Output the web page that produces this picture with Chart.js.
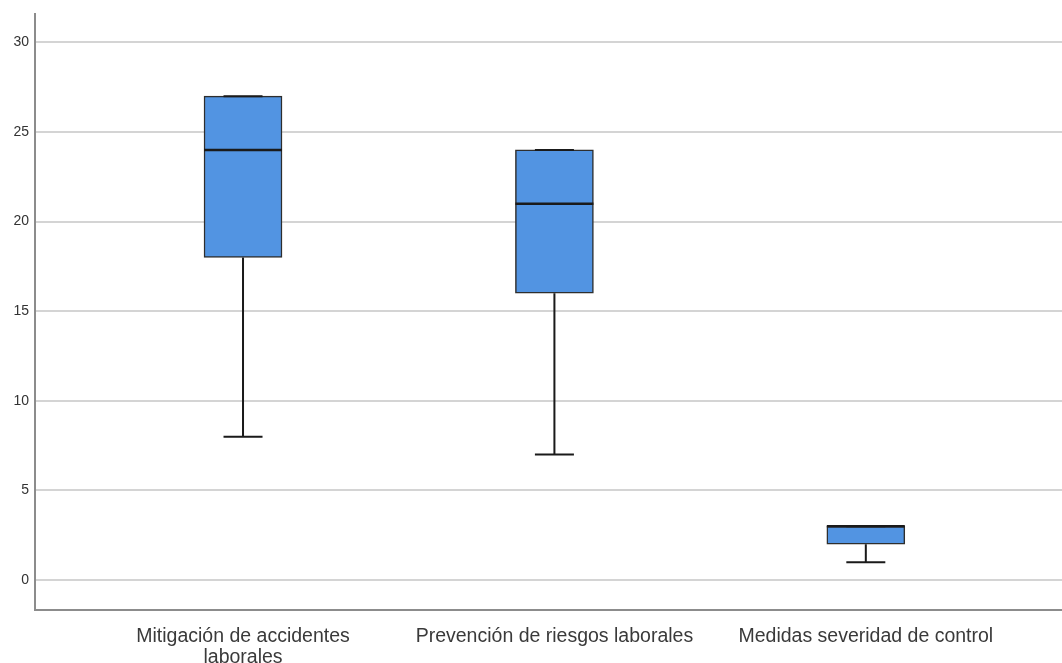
<!DOCTYPE html>
<html>
<head>
<meta charset="utf-8">
<script src="https://cdn.jsdelivr.net/npm/chart.js@4.4.1/dist/chart.umd.min.js"></script>
<style>
  html, body { margin: 0; padding: 0; background: #fff; }
  #wrap { width: 1062px; height: 663px; }
</style>
</head>
<body>
<div id="wrap"><canvas id="boxChart"></canvas></div>
<script>
// Box plot values
const categories = [["Mitigación de accidentes", "laborales"], "Prevención de riesgos laborales", "Medidas severidad de control"];
const mins = [8, 7, 1];
const q1s = [18, 16, 2];
const medians = [24, 21, 3];
const q3s = [27, 24, 3];
const maxs = [27, 24, 3];
const yTicks = [0, 5, 10, 15, 20, 25, 30];

// whiskers + medians, drawn on top of the floating bars
const boxExtras = {
  id: "boxExtras",
  afterDatasetsDraw(chart) {
    const ctx = chart.ctx;
    const xs = chart.scales.x;
    const ys = chart.scales.y;
    const meta = chart.getDatasetMeta(0);
    ctx.save();
    ctx.strokeStyle = "#1a1a1a";
    ctx.lineCap = "butt";
    categories.forEach((c, i) => {
      const cx = xs.getPixelForValue(i + 1);
      const half = meta.data[i].width / 2;
      const cap = half / 2;
      ctx.lineWidth = 2;
      // lower whisker
      ctx.beginPath();
      ctx.moveTo(cx, ys.getPixelForValue(q1s[i]));
      ctx.lineTo(cx, ys.getPixelForValue(mins[i]));
      ctx.moveTo(cx - cap, ys.getPixelForValue(mins[i]));
      ctx.lineTo(cx + cap, ys.getPixelForValue(mins[i]));
      // upper whisker
      ctx.moveTo(cx, ys.getPixelForValue(q3s[i]));
      ctx.lineTo(cx, ys.getPixelForValue(maxs[i]));
      ctx.moveTo(cx - cap, ys.getPixelForValue(maxs[i]));
      ctx.lineTo(cx + cap, ys.getPixelForValue(maxs[i]));
      ctx.stroke();
      // median
      ctx.lineWidth = 2.5;
      ctx.beginPath();
      ctx.moveTo(cx - half, ys.getPixelForValue(medians[i]));
      ctx.lineTo(cx + half, ys.getPixelForValue(medians[i]));
      ctx.stroke();
    });
    ctx.restore();
  }
};

const ctx = document.getElementById("boxChart").getContext("2d");
new Chart(ctx, {
  type: "bar",
  data: {
    datasets: [
      {
        data: categories.map((c, i) => ({ x: i + 1, y: [q1s[i], q3s[i]] })),
        backgroundColor: "#5294e2",
        borderColor: "#2e2e2e",
        borderWidth: 1.5,
        borderSkipped: false,
        barThickness: 78,
      },
    ],
  },
  options: {
    responsive: true,
    maintainAspectRatio: false,
    animation: false,
    layout: { padding: { top: 9, right: 0, left: 0, bottom: 0 } },
    plugins: {
      legend: { display: false },
      tooltip: { enabled: false },
    },
    scales: {
      x: {
        type: "linear",
        offset: false,
        bounds: "data",
        min: 0.332,
        max: 3.63,
        grid: { display: false },
        border: { display: true, color: "#8c8c8c", width: 2 },
        afterFit: (s) => { s.height = 53; },
        afterBuildTicks: (s) => { s.ticks = categories.map((c, i) => ({ value: i + 1 })); },
        ticks: {
          autoSkip: false,
          maxRotation: 0,
          padding: 8,
          color: "#3a3a3a",
          font: { family: "Liberation Sans", size: 19.5, lineHeight: 1.08 },
          callback: (v) => categories[v - 1],
        },
      },
      y: {
        min: -1.67,
        max: 31.56,
        grid: { color: "#d4d4d4", lineWidth: 2, drawTicks: false },
        border: { display: true, color: "#8c8c8c", width: 2 },
        afterFit: (s) => { s.width = 35; },
        afterBuildTicks: (s) => { s.ticks = yTicks.map((v) => ({ value: v })); },
        ticks: {
          padding: 6,
          color: "#333",
          font: { family: "Liberation Sans", size: 14 },
        },
      },
    },
  },
  plugins: [boxExtras],
});
</script>
</body>
</html>
